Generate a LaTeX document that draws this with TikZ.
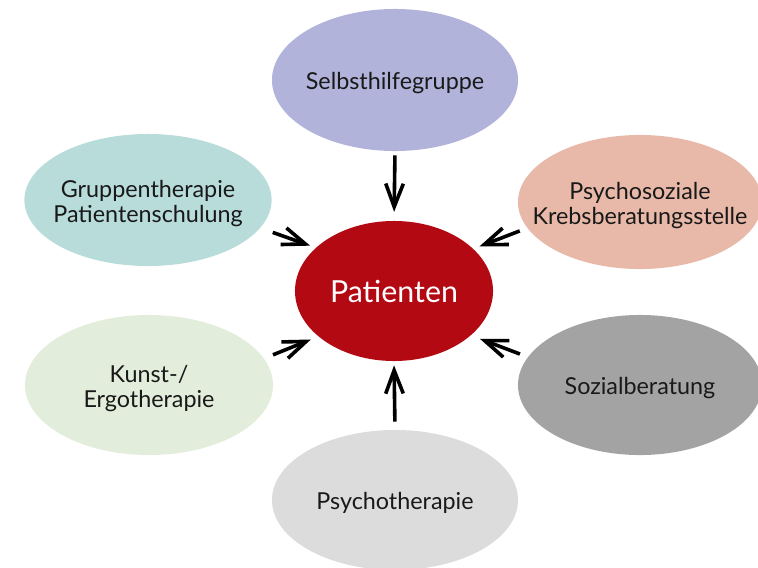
\documentclass[tikz,border=0pt]{standalone}
\usepackage{fontspec}
\setmainfont{Lato}
\usetikzlibrary{shapes.geometric, arrows.meta, positioning}

\definecolor{selbstcol}{HTML}{B1B3DB}
\definecolor{gruppecol}{HTML}{B7DCDA}
\definecolor{krebscol}{HTML}{E8B9A8}
\definecolor{patcol}{HTML}{B30912}
\definecolor{kunstcol}{HTML}{E3EDDB}
\definecolor{sozialcol}{HTML}{A2A3A2}
\definecolor{psychocol}{HTML}{DCDCDC}

% zero-width text box, so the ellipse keeps its own size
\newcommand{\inbox}[1]{\makebox[0pt]{\raisebox{-0.12cm}[\height][\depth]{\begin{tabular}{@{}c@{}}#1\end{tabular}}}}

\begin{document}
\begin{tikzpicture}[
    x=0.025cm, y=-0.025cm,
    field/.style={ellipse, inner sep=0pt, minimum width=6.15cm, minimum height=3.5cm,
        text=black!90, font=\fontsize{16.6}{17.8}\selectfont},
    center/.style={ellipse, inner sep=0pt, fill=patcol, minimum width=4.95cm, minimum height=3.5cm,
        text=white, font=\fontsize{21.6}{24}\selectfont},
    arr/.style={-{Straight Barb[length=0.58cm, width=0.44cm]}, line width=0.09cm}
]
    \useasboundingbox (0,0) rectangle (758,567);
    \clip (0,0) rectangle (758,567);

    % Centre
    \node[center] (pat) at (394,291) {\inbox{Patienten}};

    % Surrounding offers
    \node[field, fill=selbstcol, minimum height=3.55cm] (selbst) at (395,80) {\inbox{Selbsthilfegruppe}};
    \node[field, fill=gruppecol, minimum width=6.18cm, minimum height=3.3cm] (gruppe) at (148,200) {\inbox{Gruppentherapie\\Patientenschulung}};
    \node[field, fill=krebscol, minimum width=6.1cm, minimum height=3.35cm] (krebs) at (640,202) {\inbox{Psychosoziale\\Krebsberatungsstelle}};
    \node[field, fill=kunstcol, minimum width=6.2cm] (kunst) at (149,385) {\inbox{Kunst-/\\Ergotherapie}};
    \node[field, fill=sozialcol, minimum width=6.1cm] (sozial) at (640,385) {\inbox{Sozialberatung}};
    \node[field, fill=psychocol] (psycho) at (395,500) {\inbox{Psychotherapie}};

    % Arrows to the patient
    \draw[arr, shorten <=0.1cm, shorten >=0.22cm] (selbst.south) -- (pat.north);
    \draw[arr, shorten <=0.2cm, shorten >=0.1cm] (psycho.north) -- (pat.south);
    \draw[arr, shorten <=0.33cm, shorten >=0.15cm] (gruppe.-14.5) -- (pat.151);
    \draw[arr, shorten <=0.2cm, shorten >=0.16cm] (krebs.-167) -- (pat.28.7);
    \draw[arr, shorten <=0.24cm, shorten >=0.2cm] (kunst.13.7) -- (pat.211.4);
    \draw[arr, shorten <=0.21cm, shorten >=0.24cm] (sozial.166) -- (pat.-30.8);
\end{tikzpicture}
\end{document}
